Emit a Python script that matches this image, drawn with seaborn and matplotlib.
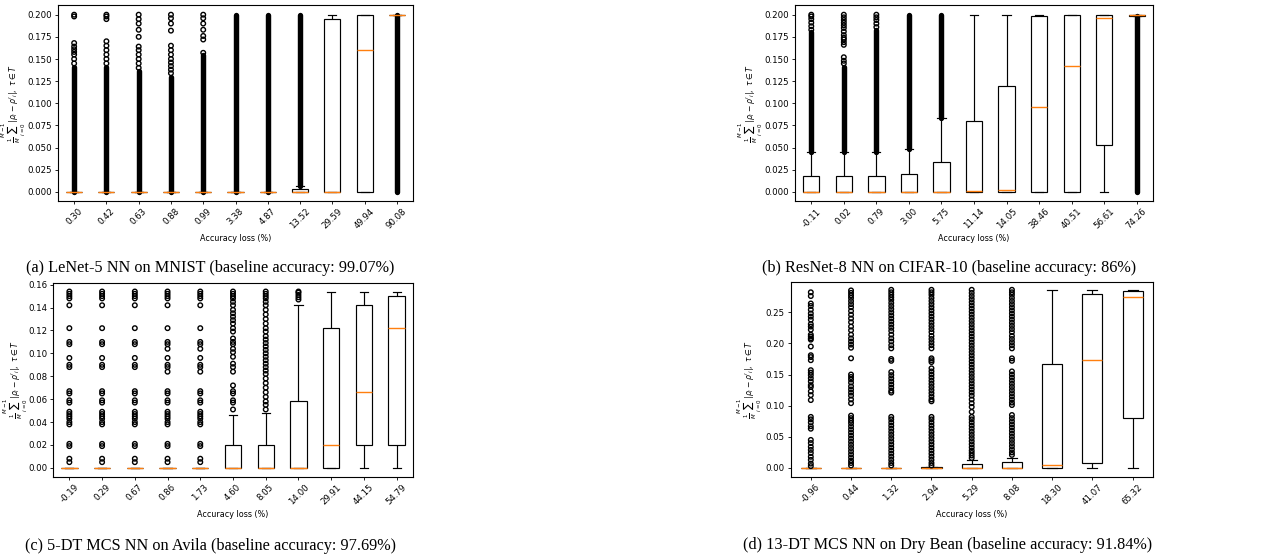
import numpy as np
import pandas as pd
import matplotlib
matplotlib.use("Agg")
import matplotlib.pyplot as plt
import seaborn as sns

# ---------------- data ----------------
# box stats: (whisker low, q1, median, q3, whisker high)
labels_a = ["0.30", "0.42", "0.63", "0.88", "0.99", "3.38", "4.87", "13.52", "29.59", "49.94", "90.08"]
stats_a = [(0, 0, 0, 0, 0), (0, 0, 0, 0, 0), (0, 0, 0, 0, 0), (0, 0, 0, 0, 0), (0, 0, 0, 0, 0),
           (0, 0, 0, 0, 0), (0, 0, 0, 0, 0), (0, 0, 0, 0.003, 0.007), (0, 0, 0, 0.195, 0.2),
           (0, 0, 0.16, 0.1995, 0.2), (0.2, 0.2, 0.2, 0.2, 0.2)]
points_a = {
    "0.30": [0.145, 0.150, 0.155, 0.158, 0.161, 0.164, 0.168, 0.198, 0.200],
    "0.42": [0.145, 0.150, 0.155, 0.160, 0.165, 0.170, 0.195, 0.198, 0.200],
    "0.63": [0.140, 0.145, 0.150, 0.155, 0.160, 0.164, 0.175, 0.183, 0.190, 0.195, 0.200],
    "0.88": [0.134, 0.138, 0.142, 0.146, 0.150, 0.155, 0.160, 0.165, 0.182, 0.190, 0.196, 0.200],
    "0.99": [0.157, 0.172, 0.176, 0.183, 0.190, 0.196, 0.200],
}
bands_a = [("0.30", 0.0, 0.141), ("0.42", 0.0, 0.141), ("0.63", 0.0, 0.136), ("0.88", 0.0, 0.130),
           ("0.99", 0.0, 0.155), ("3.38", 0.0, 0.200), ("4.87", 0.0, 0.200), ("13.52", 0.007, 0.200),
           ("90.08", 0.0, 0.200)]

labels_b = ["-0.11", "0.02", "0.79", "3.00", "5.75", "11.14", "14.05", "38.46", "40.51", "56.61", "74.26"]
stats_b = [(0, 0, 0, 0.018, 0.045), (0, 0, 0, 0.018, 0.045), (0, 0, 0, 0.018, 0.045),
           (0, 0, 0, 0.020, 0.048), (0, 0, 0, 0.034, 0.083), (0, 0, 0.001, 0.080, 0.2),
           (0, 0, 0.002, 0.120, 0.2), (0, 0, 0.096, 0.198, 0.2), (0, 0, 0.142, 0.1995, 0.2),
           (0, 0.053, 0.196, 0.1995, 0.2), (0.198, 0.1985, 0.1995, 0.2, 0.2)]
points_b = {
    "-0.11": [0.183, 0.187, 0.191, 0.195, 0.198, 0.200],
    "0.02": [0.145, 0.148, 0.152, 0.166, 0.169, 0.172, 0.174, 0.177, 0.181, 0.185, 0.188,
             0.191, 0.194, 0.197, 0.200],
    "0.79": [0.186, 0.190, 0.194, 0.197, 0.200],
}
bands_b = [("-0.11", 0.045, 0.181), ("0.02", 0.045, 0.141), ("0.79", 0.045, 0.183),
           ("3.00", 0.048, 0.200), ("5.75", 0.084, 0.200), ("74.26", 0.0, 0.198)]

labels_c = ["-0.19", "0.29", "0.67", "0.86", "1.73", "4.60", "8.05", "14.00", "29.91", "44.15", "54.79"]
stats_c = [(0, 0, 0, 0, 0), (0, 0, 0, 0, 0), (0, 0, 0, 0, 0), (0, 0, 0, 0, 0), (0, 0, 0, 0, 0),
           (0, 0, 0, 0.020, 0.046), (0, 0, 0, 0.020, 0.048), (0, 0, 0, 0.058, 0.142),
           (0, 0, 0.020, 0.122, 0.154), (0, 0.020, 0.066, 0.142, 0.154), (0, 0.020, 0.122, 0.150, 0.154)]
points_c = {
    "-0.19": [0.005, 0.008, 0.019, 0.021, 0.038, 0.040, 0.043, 0.045, 0.047, 0.049, 0.057, 0.059,
              0.065, 0.067, 0.088, 0.090, 0.096, 0.108, 0.110, 0.122, 0.142, 0.148, 0.150, 0.152, 0.154],
    "0.29": [0.005, 0.008, 0.019, 0.021, 0.038, 0.040, 0.043, 0.045, 0.047, 0.049, 0.057, 0.059,
             0.065, 0.067, 0.088, 0.090, 0.096, 0.108, 0.110, 0.122, 0.142, 0.148, 0.150, 0.152, 0.154],
    "0.67": [0.005, 0.008, 0.019, 0.021, 0.038, 0.040, 0.043, 0.045, 0.047, 0.049, 0.057, 0.059,
             0.065, 0.067, 0.088, 0.090, 0.096, 0.108, 0.110, 0.122, 0.142, 0.148, 0.150, 0.152, 0.154],
    "0.86": [0.005, 0.008, 0.019, 0.021, 0.038, 0.040, 0.043, 0.045, 0.047, 0.049, 0.057, 0.059,
             0.065, 0.067, 0.084, 0.088, 0.090, 0.096, 0.104, 0.108, 0.110, 0.122, 0.142, 0.148,
             0.150, 0.152, 0.154],
    "1.73": [0.005, 0.008, 0.019, 0.021, 0.038, 0.040, 0.043, 0.045, 0.047, 0.049, 0.057, 0.059,
             0.065, 0.067, 0.084, 0.088, 0.090, 0.096, 0.104, 0.108, 0.110, 0.122, 0.142, 0.148,
             0.150, 0.152, 0.154],
    "4.60": [0.051, 0.057, 0.059, 0.065, 0.067, 0.072, 0.084, 0.088, 0.091, 0.097, 0.101, 0.104,
             0.108, 0.110, 0.113, 0.119, 0.122, 0.126, 0.129, 0.132, 0.135, 0.138, 0.142, 0.145,
             0.148, 0.150, 0.152, 0.154],
    "8.05": [0.051, 0.055, 0.058, 0.062, 0.066, 0.070, 0.074, 0.078, 0.082, 0.085, 0.088, 0.091,
             0.094, 0.097, 0.100, 0.103, 0.106, 0.109, 0.112, 0.115, 0.119, 0.122, 0.126, 0.130,
             0.134, 0.138, 0.142, 0.145, 0.148, 0.150, 0.152, 0.154],
    "14.00": [0.147, 0.149, 0.151, 0.153, 0.154],
}
bands_c = []

labels_d = ["-0.96", "0.44", "1.32", "2.94", "5.29", "8.08", "18.30", "41.07", "65.32"]
stats_d = [(0, 0, 0, 0, 0), (0, 0, 0, 0, 0), (0, 0, 0, 0, 0), (0, 0, 0, 0.001, 0.002),
           (0, 0, 0, 0.006, 0.013), (0, 0, 0, 0.009, 0.016), (0, 0, 0.005, 0.167, 0.285),
           (0, 0.008, 0.174, 0.280, 0.285), (0, 0.080, 0.274, 0.284, 0.285)]
points_d = {
    "-0.96": [0.282, 0.276, 0.264, 0.260, 0.254, 0.248, 0.243, 0.238, 0.231, 0.227, 0.222, 0.214,
              0.211, 0.208, 0.206, 0.195, 0.181, 0.178, 0.173, 0.157, 0.153, 0.149, 0.144, 0.139,
              0.133, 0.130, 0.123, 0.117, 0.109, 0.082, 0.078, 0.073, 0.067, 0.063, 0.045, 0.040,
              0.034, 0.029, 0.024, 0.018, 0.013, 0.007, 0.003],
    "0.44": [0.285, 0.281, 0.277, 0.273, 0.268, 0.263, 0.258, 0.252, 0.246, 0.240, 0.234, 0.227,
             0.221, 0.214, 0.208, 0.203, 0.198, 0.193, 0.176, 0.150, 0.146, 0.142, 0.137, 0.131,
             0.126, 0.121, 0.116, 0.110, 0.104, 0.084, 0.080, 0.076, 0.072, 0.067, 0.062, 0.057,
             0.052, 0.047, 0.042, 0.037, 0.032, 0.027, 0.022, 0.017, 0.012, 0.008, 0.004],
    "1.32": [0.286, 0.282, 0.278, 0.274, 0.270, 0.265, 0.260, 0.255, 0.250, 0.245, 0.240, 0.235,
             0.230, 0.225, 0.220, 0.214, 0.208, 0.203, 0.197, 0.192, 0.175, 0.172, 0.154, 0.149,
             0.144, 0.139, 0.134, 0.129, 0.124, 0.121, 0.082, 0.078, 0.073, 0.068, 0.063, 0.058,
             0.053, 0.048, 0.043, 0.038, 0.033, 0.028, 0.023, 0.018, 0.013, 0.008, 0.004],
    "2.94": [0.286, 0.282, 0.278, 0.273, 0.268, 0.263, 0.258, 0.253, 0.248, 0.243, 0.238, 0.233,
             0.228, 0.223, 0.218, 0.212, 0.207, 0.202, 0.197, 0.192, 0.176, 0.173, 0.170, 0.160,
             0.155, 0.150, 0.145, 0.140, 0.135, 0.130, 0.125, 0.120, 0.115, 0.110, 0.107, 0.082,
             0.078, 0.073, 0.068, 0.063, 0.058, 0.053, 0.048, 0.043, 0.038, 0.033, 0.028, 0.023,
             0.018, 0.013, 0.008, 0.004],
    "5.29": [0.286, 0.281, 0.276, 0.271, 0.266, 0.261, 0.256, 0.251, 0.246, 0.241, 0.236, 0.231,
             0.226, 0.221, 0.216, 0.211, 0.206, 0.201, 0.196, 0.191, 0.186, 0.181, 0.176, 0.171,
             0.166, 0.161, 0.156, 0.151, 0.146, 0.141, 0.136, 0.131, 0.126, 0.121, 0.116, 0.110,
             0.104, 0.098, 0.090, 0.082, 0.078, 0.073, 0.068, 0.063, 0.058, 0.053, 0.048, 0.043,
             0.038, 0.033, 0.028, 0.024, 0.020, 0.016],
    "8.08": [0.286, 0.282, 0.278, 0.273, 0.268, 0.263, 0.258, 0.253, 0.248, 0.243, 0.238, 0.233,
             0.228, 0.223, 0.218, 0.212, 0.207, 0.202, 0.197, 0.192, 0.176, 0.172, 0.155, 0.150,
             0.145, 0.140, 0.135, 0.130, 0.125, 0.120, 0.115, 0.110, 0.105, 0.101, 0.085, 0.080,
             0.075, 0.070, 0.065, 0.060, 0.055, 0.050, 0.045, 0.040, 0.035, 0.030, 0.025, 0.021],
}
bands_d = []

captions = ["(a) LeNet-5 NN on MNIST (baseline accuracy: 99.07%)",
            "(b) ResNet-8 NN on CIFAR-10 (baseline accuracy: 86%)",
            "(c) 5-DT MCS NN on Avila (baseline accuracy: 97.69%)",
            "(d) 13-DT MCS NN on Dry Bean (baseline accuracy: 91.84%)"]
xlabel = "Accuracy loss (%)"
ylabel = r"$\frac{1}{M}\sum_{i=0}^{M-1}|\rho_i - \rho'_i|,\ \tau \in T$"

# ---------------- drawing ----------------
W, H = 1273, 558
fig = plt.figure(figsize=(W / 100, H / 100), dpi=100)

def px_axes(left, top, right, bottom):
    return fig.add_axes([left / W, 1 - bottom / H, (right - left) / W, (bottom - top) / H])

def draw(ax, labels, stats, points, bands, ylim, ylab_x):
    rows = [(lab, v) for lab, st in zip(labels, stats) for v in st]
    df = pd.DataFrame(rows, columns=["loss", "dev"])
    sns.boxplot(data=df, x="loss", y="dev", order=labels, width=0.5, whis=(0, 100),
                showfliers=False, color="white", linecolor="black", linewidth=0.85,
                medianprops=dict(color="#ff7f0e", linewidth=1.0), ax=ax)
    for lab, lo, hi in bands:
        ax.vlines(labels.index(lab), lo, hi, colors="black", linewidth=3.9,
                  capstyle="round", zorder=1.5)
    prow = [(lab, v) for lab, vals in points.items() for v in vals]
    if prow:
        dp = pd.DataFrame(prow, columns=["loss", "dev"])
        sns.stripplot(data=dp, x="loss", y="dev", order=labels, jitter=False, size=3.3,
                      marker="o", facecolor="none", edgecolor="black", linewidth=1.0,
                      ax=ax, zorder=3)
        for coll in ax.collections:
            if coll.__class__.__name__ == "PathCollection":
                coll.set_facecolor("none")
    ax.set_xlim(-0.5, len(labels) - 0.5)
    ax.set_ylim(*ylim)
    ax.set_xlabel(xlabel, fontsize=5.8, labelpad=2.5)
    ax.set_ylabel(ylabel, fontsize=5.6)
    ax.yaxis.set_label_coords(ylab_x, 0.5)
    ax.tick_params(axis="both", labelsize=6.2, length=2.2, width=0.6, pad=2)
    ax.tick_params(axis="x", labelrotation=45)
    for s in ax.spines.values():
        s.set_linewidth(0.8)

ax_a = px_axes(58, 5.3, 413, 201)
ax_b = px_axes(795, 5.3, 1153, 201)
ax_c = px_axes(53, 282.7, 413, 476.7)
ax_d = px_axes(790.7, 281.7, 1152.7, 476.7)

draw(ax_a, labels_a, stats_a, points_a, bands_a, (-0.0102, 0.2106), -0.084)
draw(ax_b, labels_b, stats_b, points_b, bands_b, (-0.0102, 0.2106), -0.083)
draw(ax_c, labels_c, stats_c, points_c, bands_c, (-0.0077, 0.1617), -0.065)
draw(ax_d, labels_d, stats_d, points_d, bands_d, (-0.014, 0.299), -0.073)

cap_pos = [(210, 268), (949, 268), (210.5, 546), (948, 545)]
for text, (cx, cy) in zip(captions, cap_pos):
    fig.text(cx / W, 1 - cy / H, text, ha="center", va="center",
             fontsize=11.7, family=["Liberation Serif", "DejaVu Serif"])

fig.savefig("out.png", dpi=100)
